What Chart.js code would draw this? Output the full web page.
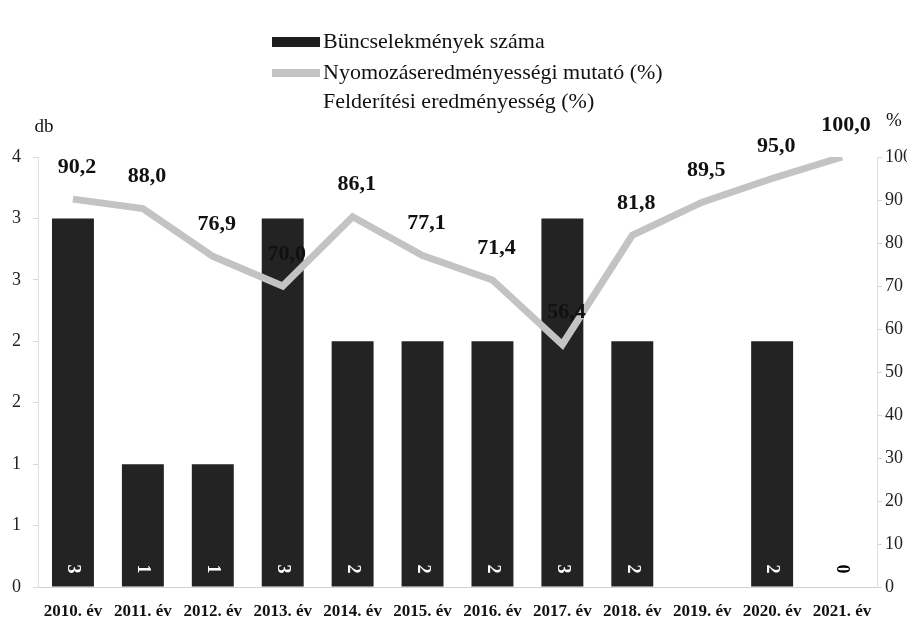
<!DOCTYPE html>
<html>
<head>
<meta charset="utf-8">
<script src="https://cdn.jsdelivr.net/npm/chart.js@4"></script>
<style>
  html, body { margin: 0; padding: 0; background: #fff; }
  #wrap { width: 907px; height: 620px; }
</style>
</head>
<body>
<div id="wrap"><canvas id="chart" width="907" height="620"></canvas></div>
<script>
const years = ['2010. év', '2011. év', '2012. év', '2013. év', '2014. év', '2015. év',
    '2016. év', '2017. év', '2018. év', '2019. év', '2020. év', '2021. év'];
const crimeCounts = [3, 1, 1, 3, 2, 2, 2, 3, 2, null, 2, 0];
const investigationRate = [90.2, 88.0, 76.9, 70.0, 86.1, 77.1, 71.4, 56.4, 81.8, 89.5, 95.0, 100.0];
const detectionRate = [];

const leftMax = 3.5;
const leftStep = 0.5;
const rightMax = 100;
const rightStep = 10;

const SERIF = '"Liberation Serif", "DejaVu Serif", serif';

const decimalComma = v => v.toFixed(1).replace('.', ',');

// legend in three stacked rows, top centre
const stackedLegend = {
    id: 'stackedLegend',
    afterDraw(chart) {
        const ctx = chart.ctx;
        const x = 272;
        const rows = [42, 73, 102];
        ctx.save();
        ctx.font = '22px ' + SERIF;
        ctx.textBaseline = 'middle';
        chart.data.datasets.forEach((ds, i) => {
            const y = rows[i];
            if (ds.type === 'bar') {
                ctx.fillStyle = '#1e1e1e';
                ctx.fillRect(x, y - 5, 48, 10);
            } else if (ds.borderColor !== 'transparent') {
                ctx.fillStyle = ds.borderColor;
                ctx.fillRect(x, y - 4, 48, 8);
            }
            ctx.fillStyle = '#111';
            ctx.textAlign = 'left';
            ctx.fillText(ds.label, x + 51, y);
        });
        ctx.restore();
    }
};

// value labels: rotated inside bars, bold above line points, axis unit titles
const valueLabels = {
    id: 'valueLabels',
    afterDatasetsDraw(chart) {
        const ctx = chart.ctx;
        const yLeft = chart.scales.y;
        ctx.save();

        const barMeta = chart.getDatasetMeta(0);
        ctx.font = 'bold 18px ' + SERIF;
        ctx.textAlign = 'center';
        ctx.textBaseline = 'middle';
        barMeta.data.forEach((el, i) => {
            const v = crimeCounts[i];
            if (v === null) return;
            ctx.save();
            ctx.translate(el.x, yLeft.getPixelForValue(0) - 18);
            ctx.rotate(Math.PI / 2);
            ctx.fillStyle = v === 0 ? '#000' : '#fff';
            ctx.fillText(String(v), 0, 0);
            ctx.restore();
        });

        const lineMeta = chart.getDatasetMeta(1);
        ctx.font = 'bold 22px ' + SERIF;
        ctx.fillStyle = '#111';
        lineMeta.data.forEach((el, i) => {
            ctx.fillText(decimalComma(investigationRate[i]), el.x + 4, el.y - 32);
        });

        ctx.font = '19px ' + SERIF;
        ctx.fillText('db', 44, 127);
        ctx.fillText('%', 894, 121);
        ctx.restore();
    }
};

function init() {
    const ctx = document.getElementById('chart').getContext('2d');
    new Chart(ctx, {
        data: {
            labels: years,
            datasets: [
                {
                    type: 'bar',
                    label: 'Büncselekmények száma',
                    data: crimeCounts,
                    yAxisID: 'y',
                    backgroundColor: '#232323',
                    barPercentage: 0.6,
                    categoryPercentage: 1.0,
                    order: 2
                },
                {
                    type: 'line',
                    label: 'Nyomozáseredményességi mutató (%)',
                    data: investigationRate,
                    yAxisID: 'y1',
                    borderColor: '#c3c3c3',
                    backgroundColor: '#c3c3c3',
                    borderWidth: 7,
                    pointRadius: 0,
                    tension: 0,
                    order: 1
                },
                {
                    type: 'line',
                    label: 'Felderítési eredményesség (%)',
                    data: detectionRate,
                    yAxisID: 'y1',
                    borderColor: 'transparent',
                    pointRadius: 0,
                    order: 0
                }
            ]
        },
        options: {
            responsive: false,
            animation: false,
            layout: { padding: { top: 157, left: 0, right: 0, bottom: 0 } },
            plugins: {
                legend: { display: false },
                tooltip: { enabled: false }
            },
            scales: {
                x: {
                    grid: { display: false },
                    border: { color: '#d0d0d0', dash: [3, 3] },
                    ticks: {
                        color: '#111',
                        font: { family: SERIF, size: 17, weight: 'bold' },
                        maxRotation: 0,
                        autoSkip: false,
                        padding: 6
                    },
                    afterFit(scale) { scale.height = 33; }
                },
                y: {
                    position: 'left',
                    min: 0,
                    max: leftMax,
                    grid: { drawOnChartArea: false, color: '#d8d8d8', tickLength: 5 },
                    border: { color: '#e0e0e0', dash: [2, 3] },
                    ticks: {
                        stepSize: leftStep,
                        color: '#222',
                        font: { family: SERIF, size: 18 },
                        padding: 12,
                        callback: v => String(Math.round(v))
                    },
                    afterFit(scale) { scale.width = 38; }
                },
                y1: {
                    position: 'right',
                    min: 0,
                    max: rightMax,
                    grid: { drawOnChartArea: false, color: '#d8d8d8', tickLength: 5 },
                    border: { color: '#e0e0e0', dash: [2, 3] },
                    ticks: {
                        stepSize: rightStep,
                        color: '#222',
                        font: { family: SERIF, size: 18 },
                        padding: 3
                    },
                    afterFit(scale) { scale.width = 30; }
                }
            }
        },
        plugins: [stackedLegend, valueLabels]
    });
}

document.addEventListener('DOMContentLoaded', init);
</script>
</body>
</html>
